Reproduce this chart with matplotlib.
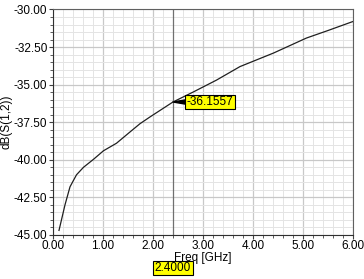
import numpy as np
import matplotlib.pyplot as plt
from matplotlib.ticker import MultipleLocator, FormatStrFormatter

# values
freq = [0.12, 0.24, 0.34, 0.47, 0.61, 0.81, 1.01, 1.27, 1.54, 1.74, 1.94,
        2.40, 2.80, 3.27, 3.74, 4.41, 5.07, 5.50, 6.00]
s12 = [-44.7, -43.0, -41.8, -41.0, -40.5, -39.97, -39.4, -38.9, -38.15, -37.6,
       -37.15, -36.1557, -35.5, -34.7, -33.8, -32.9, -31.9, -31.4, -30.8]
cursor_f = 2.4
cursor_val = -36.1557

plt.rcParams['font.family'] = ['Liberation Sans', 'DejaVu Sans']
plt.rcParams['font.size'] = 8.5

fig = plt.figure(figsize=(3.64, 2.79), dpi=100)
ax = fig.add_axes([0.1456, 0.158, 0.824, 0.808])

ax.plot(freq, s12, color='#202020', lw=0.9)
ax.axvline(cursor_f, color='#707070', lw=0.9)

ax.set_xlim(0, 6)
ax.set_ylim(-45, -30)
ax.xaxis.set_major_locator(MultipleLocator(1))
ax.xaxis.set_minor_locator(MultipleLocator(0.2))
ax.yaxis.set_major_locator(MultipleLocator(2.5))
ax.yaxis.set_minor_locator(MultipleLocator(0.5))
ax.xaxis.set_major_formatter(FormatStrFormatter('%.2f'))
ax.yaxis.set_major_formatter(FormatStrFormatter('%.2f'))

ax.grid(which='major', color='#c8c8c8', lw=0.9)
ax.grid(which='minor', color='#e4e4e4', lw=0.7)
ax.set_axisbelow(True)
ax.tick_params(which='major', direction='out', length=3, width=0.8, color='#404040', pad=1)
ax.tick_params(which='minor', direction='out', length=2, width=0.6, color='#404040')
for sp in ax.spines.values():
    sp.set_color('#606060')
    sp.set_linewidth(0.8)
ax.spines['left'].set_color('#303030')
ax.spines['bottom'].set_color('#303030')

ax.set_xlabel('Freq [GHz]', labelpad=0)
ax.set_ylabel('dB(S(1,2))', labelpad=1)

# marker readout
ax.annotate(f'{cursor_val:.4f}', xy=(cursor_f, cursor_val), xytext=(10, 0),
            textcoords='offset points', va='center', ha='left',
            bbox=dict(boxstyle='square,pad=0.12', fc='#ffff00', ec='black', lw=0.8),
            arrowprops=dict(arrowstyle='wedge,tail_width=0.35', color='black',
                            shrinkA=0, shrinkB=0))

# cursor x readout
ax.annotate(f'{cursor_f:.4f}', xy=(cursor_f, -0.147), xycoords=('data', 'axes fraction'),
            ha='center', va='center',
            bbox=dict(boxstyle='square,pad=0.12', fc='#ffff00', ec='black', lw=0.8),
            annotation_clip=False)

fig.savefig('out.png', dpi=100)
